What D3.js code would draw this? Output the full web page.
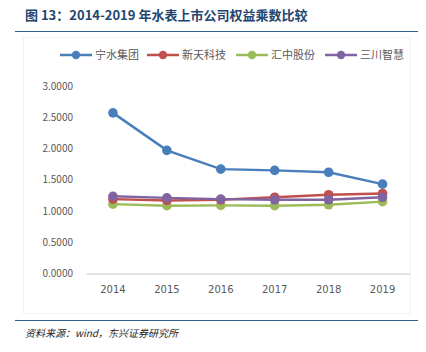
<!DOCTYPE html>
<html>
<head>
<meta charset="utf-8">
<script src="https://cdn.jsdelivr.net/npm/d3@7/dist/d3.min.js"></script>
<style>
  body { margin: 0; background: #fff; }
  svg { display: block; font-family: "Noto Sans CJK SC", "DejaVu Sans", sans-serif; }
</style>
</head>
<body>
<div id="chart"></div>
<script>
const years = ["2014", "2015", "2016", "2017", "2018", "2019"];
const seriesNames = ["宁水集团", "新天科技", "汇中股份", "三川智慧"];
const seriesColors = ["#4A7EBB", "#C0504D", "#9BBB59", "#8064A2"];
const ningshui = [2.57, 1.97, 1.67, 1.65, 1.62, 1.43];
const xintian = [1.19, 1.17, 1.18, 1.22, 1.26, 1.28];
const huizhong = [1.11, 1.085, 1.09, 1.085, 1.10, 1.15];
const sanchuan = [1.235, 1.21, 1.19, 1.18, 1.18, 1.22];
const yTicks = [0, 0.5, 1, 1.5, 2, 2.5, 3];

const W = 426, H = 352;
const svg = d3.select("#chart").append("svg")
  .attr("width", W)
  .attr("height", H);

// Title + rules
svg.append("text")
  .attr("x", 25).attr("y", 20)
  .style("font-size", "13px")
  .style("font-weight", "bold")
  .style("fill", "#23466f")
  .text("图 13：2014-2019 年水表上市公司权益乘数比较");
svg.append("line")
  .attr("x1", 15).attr("x2", 418).attr("y1", 31.5).attr("y2", 31.5)
  .attr("stroke", "#2e5e8c").attr("stroke-width", 1.2);
svg.append("line")
  .attr("x1", 15).attr("x2", 418).attr("y1", 320.5).attr("y2", 320.5)
  .attr("stroke", "#2e5e8c").attr("stroke-width", 1.2);
svg.append("text")
  .attr("x", 25).attr("y", 337)
  .style("font-size", "10px")
  .style("font-style", "italic")
  .style("fill", "#222")
  .text("资料来源：wind，东兴证券研究所");

// faint chart frame
svg.append("rect")
  .attr("x", 23.5).attr("y", 37.5).attr("width", 387).attr("height", 276)
  .attr("fill", "none").attr("stroke", "#f2f2f2");

// Scales
const x = d3.scaleBand().domain(years).range([86, 409.5]);
const y = d3.scaleLinear().domain([0, 3]).range([273.5, 86]);

// Y axis labels
svg.append("g").selectAll("text")
  .data(yTicks)
  .join("text")
  .attr("x", 73).attr("y", d => y(d) + 3.5)
  .attr("text-anchor", "end")
  .style("font-size", "10px")
  .style("fill", "#595959")
  .text(d => d.toFixed(4));

// X axis
const xAxis = svg.append("g")
  .attr("transform", `translate(0,${y(0)})`)
  .call(d3.axisBottom(x).tickSize(0).tickPadding(12));
xAxis.select(".domain").attr("stroke", "#d9d9d9").attr("stroke-width", 1.5);
xAxis.selectAll("text")
  .style("font-size", "10px")
  .style("fill", "#595959")
  .style("font-family", "\"DejaVu Sans\", sans-serif");

// Lines
const allSeries = [ningshui, xintian, huizhong, sanchuan];
const line = d3.line()
  .x((d, i) => x(years[i]) + x.bandwidth() / 2)
  .y(d => y(d));

// draw in reverse so blue ends on top like the reference
[2, 1, 3, 0].forEach(k => {
  const vals = allSeries[k];
  svg.append("path")
    .datum(vals)
    .attr("d", line)
    .attr("fill", "none")
    .attr("stroke", seriesColors[k])
    .attr("stroke-width", 2.5);
  svg.append("g").selectAll("circle")
    .data(vals)
    .join("circle")
    .attr("cx", (d, i) => x(years[i]) + x.bandwidth() / 2)
    .attr("cy", d => y(d))
    .attr("r", 4.8)
    .attr("fill", seriesColors[k]);
});

// Legend
const legendX = [60, 147, 236, 325];
const legend = svg.append("g");
seriesNames.forEach((name, k) => {
  const lx = legendX[k];
  legend.append("line")
    .attr("x1", lx).attr("x2", lx + 32).attr("y1", 55).attr("y2", 55)
    .attr("stroke", seriesColors[k]).attr("stroke-width", 2.5);
  legend.append("circle")
    .attr("cx", lx + 16).attr("cy", 55).attr("r", 4.2)
    .attr("fill", seriesColors[k]);
  legend.append("text")
    .attr("x", lx + 35).attr("y", 59)
    .style("font-size", "11px")
    .style("fill", "#595959")
    .text(name);
});
</script>
</body>
</html>
